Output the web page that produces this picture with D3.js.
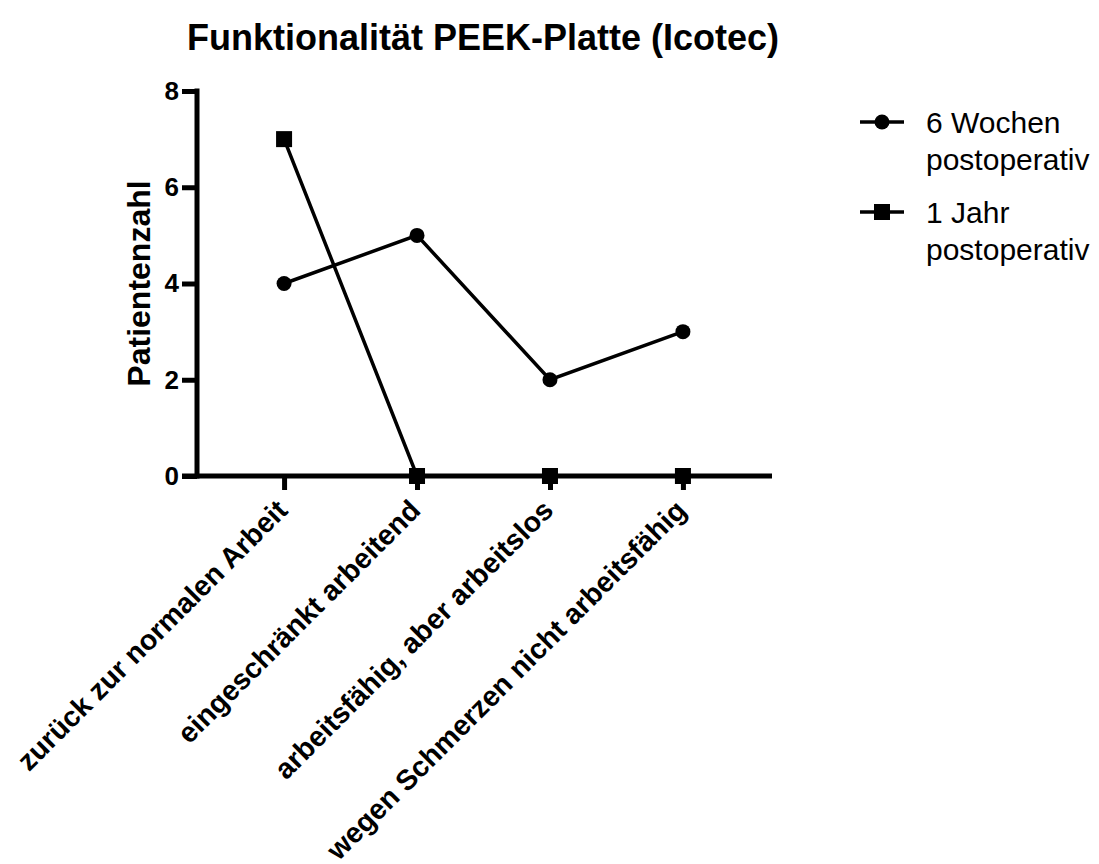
<!DOCTYPE html>
<html>
<head>
<meta charset="utf-8">
<script src="https://cdn.jsdelivr.net/npm/d3@7"></script>
<style>
  html, body { margin: 0; padding: 0; background: #fff; }
  svg { display: block; font-family: "Liberation Sans", Arial, Helvetica, sans-serif; }
</style>
</head>
<body>
<svg id="chart" width="1099" height="864"></svg>
<script>
const title = "Funktionalität PEEK-Platte (Icotec)";
const yLabel = "Patientenzahl";
const categories = [
  "zurück zur normalen Arbeit",
  "eingeschränkt arbeitend",
  "arbeitsfähig, aber arbeitslos",
  "wegen Schmerzen nicht arbeitsfähig"
];
const sixWeeks = [4, 5, 2, 3];
const oneYear = [7, 0, 0, 0];
const yTicks = [0, 2, 4, 6, 8];
const seriesNames = [["6 Wochen", "postoperativ"], ["1 Jahr", "postoperativ"]];

const svg = d3.select("#chart");

const x = d3.scalePoint().domain(categories).range([195, 772]).padding(0.67);
const y = d3.scaleLinear().domain([0, 8]).range([476, 91]);

// title
svg.append("text")
  .attr("x", 483).attr("y", 50)
  .attr("text-anchor", "middle")
  .attr("font-size", 36).attr("font-weight", "bold")
  .text(title);

// y axis
const yAxis = svg.append("g").attr("transform", "translate(197,0)")
  .call(d3.axisLeft(y).tickValues(yTicks).tickSize(15).tickPadding(3).tickFormat(d3.format("d")));
yAxis.select(".domain").remove();
yAxis.append("line").attr("x1", 0).attr("x2", 0).attr("y1", y(8) - 2.5).attr("y2", y(0) + 2.5)
  .attr("stroke", "#000").attr("stroke-width", 5);
yAxis.selectAll(".tick line").attr("stroke", "#000").attr("stroke-width", 5);
yAxis.selectAll(".tick text").attr("font-size", 26).attr("font-weight", "bold")
  .attr("fill", "#000").attr("font-family", "Liberation Sans, Arial, sans-serif");

// x axis
const xAxis = svg.append("g").attr("transform", `translate(0,${y(0)})`)
  .call(d3.axisBottom(x).tickSize(14).tickFormat(""));
xAxis.select(".domain").remove();
xAxis.insert("line", ":first-child").attr("x1", 182).attr("x2", 772).attr("y1", 0).attr("y2", 0)
  .attr("stroke", "#000").attr("stroke-width", 5);
xAxis.selectAll(".tick line").attr("stroke", "#000").attr("stroke-width", 5);

// x labels rotated
svg.append("g").selectAll("text").data(categories).join("text")
  .attr("transform", d => `translate(${x(d) - 2},${y(0) + 29}) rotate(-45)`)
  .attr("text-anchor", "end")
  .attr("dy", "0.35em")
  .attr("font-size", 28.5).attr("font-weight", "bold")
  .text(d => d);

// y label
svg.append("text")
  .attr("transform", `translate(150,${(y(0) + y(8)) / 2}) rotate(-90)`)
  .attr("text-anchor", "middle")
  .attr("font-size", 32).attr("font-weight", "bold")
  .text(yLabel);

// lines
const line = d3.line().x((d, i) => x(categories[i])).y(d => y(d));
svg.append("path").datum(sixWeeks).attr("d", line)
  .attr("fill", "none").attr("stroke", "#000").attr("stroke-width", 3.5);
svg.append("path").datum(oneYear).attr("d", line)
  .attr("fill", "none").attr("stroke", "#000").attr("stroke-width", 3.5);

// markers
svg.append("g").selectAll("circle").data(sixWeeks).join("circle")
  .attr("cx", (d, i) => x(categories[i])).attr("cy", d => y(d)).attr("r", 7.5).attr("fill", "#000");
const sq = 16;
svg.append("g").selectAll("rect").data(oneYear).join("rect")
  .attr("x", (d, i) => x(categories[i]) - sq / 2).attr("y", d => y(d) - sq / 2)
  .attr("width", sq).attr("height", sq).attr("fill", "#000");

// legend
const legY = [122, 212];
const leg = svg.append("g");
seriesNames.forEach((names, i) => {
  const g = leg.append("g").attr("transform", `translate(0,${legY[i]})`);
  g.append("line").attr("x1", 860).attr("x2", 904).attr("y1", 0).attr("y2", 0)
    .attr("stroke", "#000").attr("stroke-width", 3.5);
  if (i === 0) g.append("circle").attr("cx", 882).attr("cy", 0).attr("r", 7.5).attr("fill", "#000");
  else g.append("rect").attr("x", 882 - 8).attr("y", -8).attr("width", 16).attr("height", 16).attr("fill", "#000");
  names.forEach((t, j) => {
    g.append("text").attr("x", 926).attr("y", j * 37).attr("dy", "0.35em")
      .attr("font-size", 30).text(t);
  });
});
</script>
</body>
</html>
